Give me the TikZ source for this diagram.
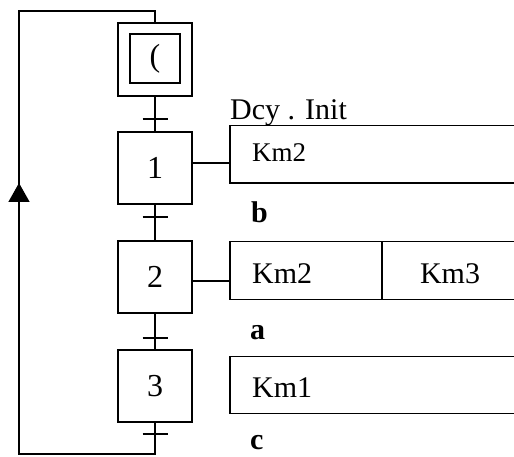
\documentclass[tikz,border=0pt]{standalone}
\usepackage{fontspec}
\setmainfont{Liberation Serif}
\usetikzlibrary{arrows.meta}
\tikzset{
  stepbox/.style={draw, line width=1.4pt, minimum width=74pt, minimum height=72pt, inner sep=0pt, font=\fontsize{32}{32}\selectfont},
  innerbox/.style={draw, line width=1.4pt, minimum width=50pt, minimum height=49pt, inner sep=0pt, font=\fontsize{32}{32}\selectfont},
  actbox/.style={minimum width=284pt, minimum height=57pt, inner sep=0pt},
  txt/.style={inner sep=0pt, anchor=base west, font=\fontsize{30}{30}\selectfont},
  btxt/.style={inner sep=0pt, anchor=base west, font=\fontsize{30}{30}\selectfont\bfseries},
  ln/.style={line width=1.4pt},
  tick/.style={line width=1.4pt}
}
\begin{document}
\begin{tikzpicture}[x=1pt,y=-1pt]
\useasboundingbox (0,0) rectangle (514,457);
% steps
\node[stepbox, minimum height=73pt] (s0) at (155,59.5) {};
\node[innerbox] (s0i) at (155,58.5) {(};
\node[stepbox] (s1) at (155,168) {1};
\node[stepbox] (s2) at (155,277) {2};
\node[stepbox] (s3) at (155,386) {3};
% vertical links
\draw[ln] (s0.south) -- (s1.north);
\draw[ln] (s1.south) -- (s2.north);
\draw[ln] (s2.south) -- (s3.north);
% transitions ticks
\coordinate (t0) at (155,119);
\coordinate (t1) at (155,217);
\coordinate (t2) at (155,338);
\coordinate (t3) at (155,434);
\foreach \t in {t0,t1,t2,t3}{
  \draw[tick] ([xshift=-12.5pt]\t) -- ([xshift=12.5pt]\t);
}
% loop back
\coordinate (cb) at (155,454);
\coordinate (cbl) at (19,454);
\coordinate (ctl) at (19,11);
\coordinate (ct) at (155,11);
\coordinate (carr) at (19,183);
\draw[ln] (s3.south) -- (cb) -- (cbl) -- (ctl) -- (ct) -- (s0.north);
\draw[ln, -{Triangle[width=21pt,length=19pt]}] (cbl) -- (carr);
% action boxes
\node[actbox] (a1) at (372,154.5) {};
\node[actbox] (a2) at (372,270.5) {};
\node[actbox] (a3) at (372,385) {};
\foreach \a in {a1,a2,a3}{
  \draw[ln] (\a.north east) -- (\a.north west) -- (\a.south west) -- (\a.south east);
}
\coordinate (d2) at (382,242);
\draw[ln] (d2) -- (d2 |- a2.south);
% links step -> action
\coordinate (l1) at (192,163);
\coordinate (l2) at (192,281);
\draw[ln] (l1) -- (l1 -| a1.west);
\draw[ln] (l2) -- (l2 -| a2.west);
% texts
\node[txt] (dcy) at (230,120) {Dcy . Init};
\node[txt, font=\fontsize{27}{27}\selectfont] (k1) at (252,162) {Km2};
\node[btxt] (tb) at (251,223) {b};
\node[txt] (k2) at (252,283) {Km2};
\node[txt, anchor=base] (k3) at (450,283) {Km3};
\node[btxt] (ta) at (250,339) {a};
\node[txt] (k4) at (252,397) {Km1};
\node[btxt] (tc) at (250,449) {c};
\end{tikzpicture}
\end{document}
